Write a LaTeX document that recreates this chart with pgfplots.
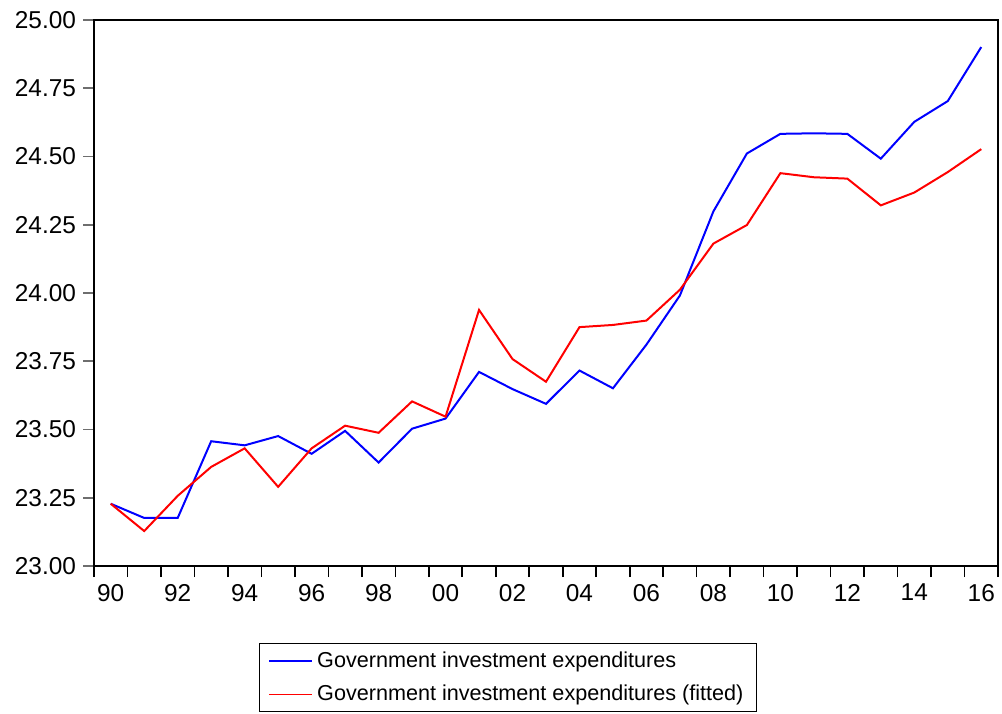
\documentclass[border=0pt]{standalone}
\usepackage{fontspec}
\setmainfont{Liberation Sans}
\usepackage{pgfplots}
\pgfplotsset{compat=1.18}
\usetikzlibrary{calc}
\definecolor{evblue}{RGB}{0,0,255}
\definecolor{evred}{RGB}{255,0,0}
\definecolor{tickgrey}{RGB}{110,110,110}

\pgfplotstableread{
year actual fitted
1990 23.228 23.228
1991 23.176 23.128
1992 23.176 23.257
1993 23.457 23.363
1994 23.442 23.431
1995 23.476 23.290
1996 23.411 23.431
1997 23.495 23.514
1998 23.379 23.488
1999 23.503 23.603
2000 23.540 23.547
2001 23.711 23.938
2002 23.648 23.758
2003 23.594 23.675
2004 23.716 23.875
2005 23.651 23.883
2006 23.811 23.899
2007 23.991 24.012
2008 24.299 24.181
2009 24.511 24.249
2010 24.583 24.439
2011 24.585 24.424
2012 24.583 24.419
2013 24.492 24.321
2014 24.627 24.368
2015 24.703 24.443
2016 24.901 24.527
}\gdpdata

\begin{document}
\begin{tikzpicture}
\begin{axis}[
    name=ax,
    scale only axis,
    width=452pt, height=273pt,
    xmin=1989.5, xmax=2016.5,
    ymin=23, ymax=25,
    axis line style={black, line width=0.8pt},
    tick pos=left,
    tick align=outside,
    major tick length=5.5pt,
    minor tick length=5.5pt,
    xtick={1990,1992,...,2016},
    xticklabels={90,92,94,96,98,00,02,04,06,08,10,12,14,16},
    minor xtick={1989.5,1990.5,...,2016.5},
    major x tick style={draw=none},
    minor x tick style={black, line width=0.8pt},
    ytick={23,23.25,...,25},
    y tick style={tickgrey, line width=0.8pt},
    yticklabel style={/pgf/number format/.cd, fixed, fixed zerofill, precision=2},
    /pgf/number format/assume math mode=true,
    tick label style={font=\fontsize{12.2}{14}\selectfont},
    legend style={
        at={(0.458,-0.141)}, anchor=north,
        draw=black, line width=0.5pt,
        font=\fontsize{10.8}{12}\selectfont,
        row sep=3.5pt, inner xsep=4.5pt, inner ysep=2pt,
        /tikz/every even column/.append style={column sep=0pt},
    },
    legend cell align=left,
    legend image code/.code={\draw[#1, line width=0.8pt] (0pt,0pt) -- (21.5pt,0pt);},
]
\addplot[evblue, line width=1pt] table[x=year, y=actual] {\gdpdata};
\addlegendentry{Government investment expenditures}
\addplot[evred, line width=1pt] table[x=year, y=fitted] {\gdpdata};
\addlegendentry{Government investment expenditures (fitted)}
\end{axis}
\pgfresetboundingbox
\useasboundingbox ($(ax.south west)+(-47pt,-73.5pt)$) rectangle ($(ax.north east)+(2pt,10pt)$);
\end{tikzpicture}
\end{document}
